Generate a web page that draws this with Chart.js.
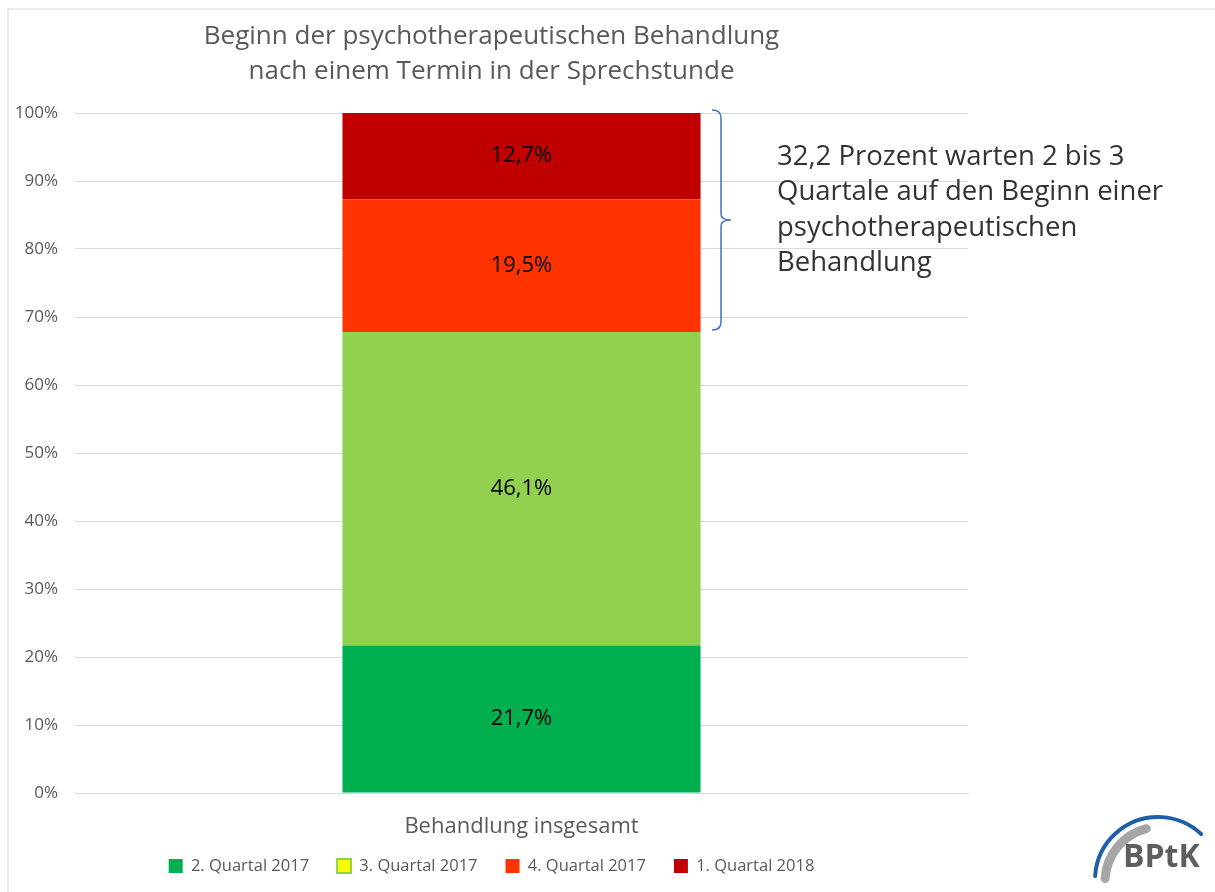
<!DOCTYPE html>
<html><head><meta charset="utf-8">
<script src="https://cdn.jsdelivr.net/npm/chart.js@4.4.0/dist/chart.umd.min.js"></script>
<style>html,body{margin:0;padding:0;background:#fff}#wrap{width:1215px;height:892px}</style>
</head><body><div id="wrap"><canvas id="c" width="1215" height="892"></canvas></div>
<script>
const categories = ["Behandlung insgesamt"];
const seriesNames = ["2. Quartal 2017", "3. Quartal 2017", "4. Quartal 2017", "1. Quartal 2018"];
const q2_2017 = [21.7];
const q3_2017 = [46.1];
const q4_2017 = [19.5];
const q1_2018 = [12.7];
const yTicks = [0,10,20,30,40,50,60,70,80,90,100];
const titleLines = ["Beginn der psychotherapeutischen Behandlung", "nach einem Termin in der Sprechstunde"];
const noteLines = ["32,2 Prozent warten 2 bis 3", "Quartale auf den Beginn einer", "psychotherapeutischen", "Behandlung"];

const colors = ["#00B050", "#92D050", "#FF3300", "#C00000"];
const FONT = "'Open Sans', 'DejaVu Sans', sans-serif";

const decor = {
  id: 'decor',
  afterLayout(chart) {
    // let the category label extend below its fitted box (avoid clipping)
    chart.scales.x.bottom = chart.height;
  },
  beforeDraw(chart) {
    const ctx = chart.ctx;
    ctx.save();
    ctx.fillStyle = '#fff';
    ctx.fillRect(0,0,chart.width,chart.height);
    ctx.strokeStyle = '#ebebeb';
    ctx.lineWidth = 2;
    ctx.beginPath();
    ctx.moveTo(8, 892); ctx.lineTo(8, 9); ctx.lineTo(1215, 9);
    ctx.stroke();
    ctx.restore();
  },
  afterDatasetsDraw(chart) {
    const ctx = chart.ctx;
    ctx.save();
    // data labels
    ctx.font = "22px " + FONT;
    ctx.fillStyle = '#000';
    ctx.textAlign = 'center';
    ctx.textBaseline = 'middle';
    chart.data.datasets.forEach((ds, i) => {
      const meta = chart.getDatasetMeta(i);
      meta.data.forEach((el, j) => {
        const v = ds.data[j];
        if (!v) return;
        const yc = (el.y + el.base) / 2;
        ctx.fillText(v.toFixed(1).replace('.', ',') + '%', el.x, yc);
      });
    });
    // bracket over top two segments
    const ys = chart.scales.y;
    const top = ys.getPixelForValue(100) - 3;
    const bottom = ys.getPixelForValue(100 - q1_2018[0] - q4_2017[0]) - 2;
    const mid = (top + bottom) / 2;
    const xb = 721;
    ctx.strokeStyle = '#4472C4';
    ctx.lineWidth = 1.5;
    ctx.beginPath();
    ctx.moveTo(712, top);
    ctx.quadraticCurveTo(xb, top, xb, top + 8);
    ctx.lineTo(xb, mid - 6);
    ctx.quadraticCurveTo(xb, mid, 731, mid);
    ctx.quadraticCurveTo(xb, mid, xb, mid + 6);
    ctx.lineTo(xb, bottom - 8);
    ctx.quadraticCurveTo(xb, bottom, 712, bottom);
    ctx.stroke();
    // note text
    ctx.font = "27.5px " + FONT;
    ctx.fillStyle = '#333333';
    ctx.textAlign = 'left';
    ctx.textBaseline = 'middle';
    noteLines.forEach((t, k) => ctx.fillText(t, 777, 157 + k * 35.5));
    // logo
    ctx.lineCap = 'round';
    ctx.strokeStyle = '#A6A6A6';
    ctx.lineWidth = 9;
    ctx.beginPath();
    ctx.arc(1160, 882, 55, Math.PI * 1.02, Math.PI * 1.42);
    ctx.stroke();
    ctx.strokeStyle = '#1F5FAA';
    ctx.lineWidth = 4;
    ctx.beginPath();
    ctx.arc(1158, 880, 63, Math.PI * 1.02, Math.PI * 1.74);
    ctx.stroke();
    ctx.fillStyle = '#5E5E5E';
    ctx.font = "bold 32px " + FONT;
    ctx.textAlign = 'left';
    ctx.textBaseline = 'alphabetic';
    ctx.fillText('BPtK', 1123, 867);
    ctx.restore();
  }
};

new Chart(document.getElementById('c'), {
  type: 'bar',
  data: {
    labels: categories,
    datasets: [q2_2017, q3_2017, q4_2017, q1_2018].map((d, i) => ({
      label: seriesNames[i],
      data: d,
      backgroundColor: colors[i],
      borderWidth: 0,
      categoryPercentage: 1,
      barPercentage: 0.401
    }))
  },
  plugins: [decor],
  options: {
    responsive: false,
    animation: false,
    layout: { padding: { left: 15, right: 247, top: 10, bottom: 7.75 } },
    plugins: {
      tooltip: { enabled: false },
      title: {
        display: true,
        text: titleLines,
        color: '#595959',
        font: { family: FONT, size: 26, weight: 'normal', lineHeight: 1.35 },
        padding: { top: 9, bottom: 23.8 }
      },
      legend: {
        position: 'bottom',
        labels: {
          color: '#595959',
          font: { family: FONT, size: 16.5 },
          boxWidth: 14, boxHeight: 14,
          padding: 28,
          generateLabels(chart) {
            return chart.data.datasets.map((ds, i) => ({
              text: ds.label,
              fillStyle: i === 1 ? '#FFFF00' : ds.backgroundColor,
              strokeStyle: i === 1 ? '#92D050' : ds.backgroundColor,
              lineWidth: i === 1 ? 2 : 0,
              fontColor: '#595959',
              datasetIndex: i
            }));
          }
        }
      }
    },
    scales: {
      x: {
        stacked: true,
        grid: { display: false, drawTicks: false },
        border: { display: true, color: '#d9d9d9', width: 1 },
        ticks: { color: '#595959', font: { family: FONT, size: 22 }, padding: 21 },
        afterFit(axis) { axis.height = 36.75; }
      },
      y: {
        stacked: true,
        min: 0, max: 100,
        afterBuildTicks(axis) { axis.ticks = yTicks.map(v => ({ value: v })); },
        afterFit(axis) { axis.width = 60; },
        grid: { color: '#d9d9d9', lineWidth: 1, drawTicks: false },
        border: { display: false },
        ticks: { color: '#595959', font: { family: FONT, size: 17 }, padding: 17,
          callback: v => v + '%' }
      }
    }
  }
});
</script></body></html>
